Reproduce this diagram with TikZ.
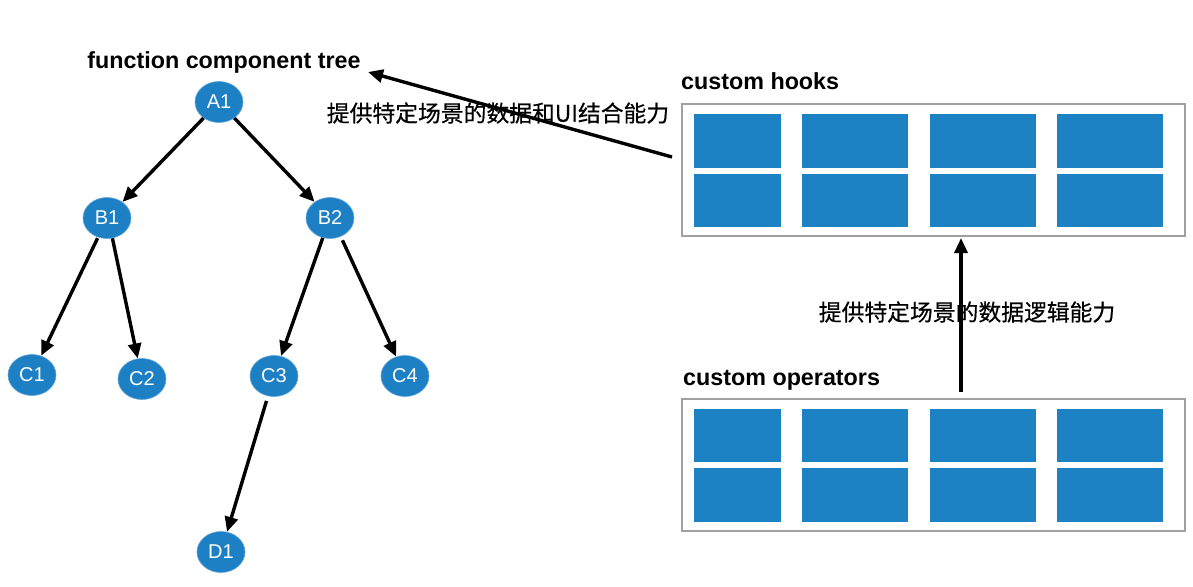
\documentclass[tikz,border=0pt]{standalone}
\usepackage{fontspec}
\setmainfont{Liberation Sans}
\newfontfamily\cjk[BoldFont={Noto Sans CJK SC},BoldFeatures={FakeBold=0.5}]{Noto Sans CJK SC}
\usetikzlibrary{arrows.meta,shapes.geometric}
\definecolor{nodeblue}{RGB}{30,128,196}
\definecolor{tileblue}{RGB}{28,130,196}
\definecolor{boxgray}{RGB}{160,160,160}
\tikzset{
  treenode/.style={ellipse,fill=nodeblue,draw=nodeblue!70!white,line width=0.6pt,minimum width=48pt,minimum height=41pt,inner sep=0pt,text=white,font=\fontsize{20}{20}\selectfont},
  conn/.style={line width=3.4pt,-{Triangle[length=15pt,width=13pt]}},
  heading/.style={font=\fontsize{23.3}{24}\selectfont\bfseries,inner sep=0pt},
  cjklabel/.style={font=\cjk\bfseries\fontsize{22.8}{24}\selectfont,inner sep=0pt},
  panel/.style={draw=boxgray,line width=1.5pt,fill=white},
  tile/.style={fill=tileblue}
}
\begin{document}
\begin{tikzpicture}[x=1pt,y=-1pt]
\useasboundingbox (0,0) rectangle (1193,586);
\fill[white] (0,0) rectangle (1193,586);
% tree
\node[heading,anchor=base] (title) at (224,68) {function component tree};
\node[treenode] (A1) at (219,102) {A1};
\node[treenode] (B1) at (107,218) {B1};
\node[treenode] (B2) at (330,218) {B2};
\node[treenode] (C1) at (32,375) {C1};
\node[treenode] (C2) at (142,379) {C2};
\node[treenode] (C3) at (274,376) {C3};
\node[treenode] (C4) at (405,376) {C4};
\node[treenode] (D1) at (221,552) {D1};
\draw[conn] (A1) -- (B1);
\draw[conn] (A1) -- (B2);
\draw[conn,shorten <=1pt] (B1.-115) -- (C1);
\draw[conn] (B1.-75) -- (C2);
\draw[conn] (B2.-110) -- (C3);
\draw[conn,shorten <=4pt] (B2.-60) -- (C4);
\draw[conn,shorten <=5pt] (C3) -- (D1);
% panels
\node[heading,anchor=base west] (hookst) at (681,89) {custom hooks};
\node[panel,anchor=north west,minimum width=503pt,minimum height=132pt,inner sep=0pt] (hooks) at (681,103) {};
\node[heading,anchor=base west] (opst) at (683,385) {custom operators};
\node[panel,anchor=north west,minimum width=503pt,minimum height=132pt,inner sep=0pt] (ops) at (681,398) {};
\foreach \xa/\xb in {694/781,802/908,930/1036,1057/1163}{
  \fill[tile] (\xa,114) rectangle (\xb,168);
  \fill[tile] (\xa,174) rectangle (\xb,227);
  \fill[tile] (\xa,409) rectangle (\xb,462);
  \fill[tile] (\xa,468) rectangle (\xb,522);
}
% connectors between panels
\coordinate (hstart) at (672,157);
\coordinate (htip) at (368,72);
\draw[conn] (hstart) -- (htip);
\node[cjklabel] (lab1) at (498,113) {提供特定场景的数据和UI结合能力};
\coordinate (ostart) at (961,392);
\coordinate (otip) at (961,238);
\draw[conn] (ostart) -- (otip);
\node[cjklabel] (lab2) at (967,312) {提供特定场景的数据逻辑能力};
\end{tikzpicture}
\end{document}
